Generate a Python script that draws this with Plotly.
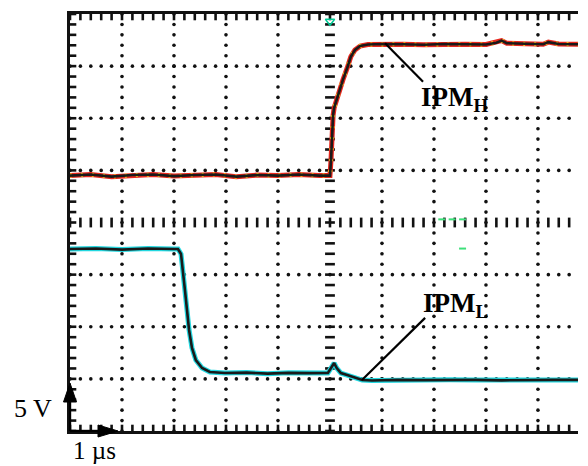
import numpy as np
import plotly.graph_objects as go

# ---- data (time in µs, voltage in V relative to each channel's ground) ----
time_h = [0.0, 0.4, 0.8, 1.2, 1.6, 2.0, 2.4, 2.8, 3.2, 3.6, 4.0, 4.4, 4.8, 5.0,
          5.02, 5.04, 5.06, 5.08, 5.15, 5.25, 5.33, 5.40, 5.48, 5.58, 5.73, 6.02,
          6.4, 6.8, 7.2, 7.6, 8.0, 8.2, 8.3, 8.4, 8.8, 9.1, 9.2, 9.4, 9.77]
ipm_h = [0.0, 0.1, -0.1, 0.05, 0.1, -0.05, 0.05, 0.1, -0.1, 0.05, 0.0, 0.1, 0.0, 0.0,
         1.5, 4.4, 5.8, 6.5, 7.7, 9.2, 10.3, 11.4, 12.05, 12.43, 12.57, 12.62,
         12.6, 12.55, 12.62, 12.6, 12.58, 12.75, 12.95, 12.7, 12.62, 12.6, 12.8, 12.62, 12.6]

time_l = [0.0, 0.5, 1.0, 1.5, 2.0, 2.077, 2.135, 2.173, 2.21, 2.25, 2.29, 2.346, 2.42,
          2.54, 2.69, 2.98, 3.4, 3.8, 4.2, 4.6, 4.96, 5.02, 5.08, 5.13, 5.21, 5.33,
          5.46, 5.62, 5.81, 6.3, 6.8, 7.3, 7.8, 8.3, 8.8, 9.3, 9.77]
ipm_l = [12.46, 12.5, 12.4, 12.5, 12.46, 12.46, 11.98, 10.44, 8.53, 6.61, 4.69, 2.96, 1.81,
         1.04, 0.66, 0.56, 0.6, 0.5, 0.58, 0.55, 0.56, 1.04, 1.52, 1.04, 0.56, 0.37,
         0.18, -0.11, -0.16, -0.1, -0.12, -0.08, -0.1, -0.14, -0.1, -0.1, -0.1]

volts_per_div = 5.0
h_ground_div = 4.9
l_ground_div = 1.0
label_h = "IPM<sub>H</sub>"
label_l = "IPM<sub>L</sub>"
scale_v = "5 V"
scale_t = "1 µs"

X_MAX = 9.77
Y_MAX = 8.0

fig = go.Figure()

# ---- graticule dots ----
sub = np.round(np.arange(0, 10.01, 0.2), 3)
subx = sub[sub <= X_MAX]
suby = np.round(np.arange(0, 8.01, 0.2), 3)
gx, gy = [], []
for yy in [1, 2, 3, 5, 6, 7]:
    gx += list(subx); gy += [yy] * len(subx)
for xx in [1, 2, 3, 4, 6, 7, 8, 9]:
    gx += [xx] * len(suby); gy += list(suby)
fig.add_trace(go.Scatter(x=gx, y=gy, mode="markers", hoverinfo="skip",
                         marker=dict(symbol="circle", size=3.6, color="#111")))
# centre lines with tick marks
fig.add_trace(go.Scatter(x=list(subx), y=[4] * len(subx), mode="markers", hoverinfo="skip",
                         marker=dict(symbol="line-ns", size=7, line=dict(width=2.6, color="#111"))))
fig.add_trace(go.Scatter(x=[5] * len(suby), y=list(suby), mode="markers", hoverinfo="skip",
                         marker=dict(symbol="line-ew", size=7, line=dict(width=2.6, color="#111"))))
# border ticks (half clipped -> inside ticks)
fig.add_trace(go.Scatter(x=list(subx) * 2, y=[Y_MAX] * len(subx) + [0] * len(subx),
                         mode="markers", hoverinfo="skip",
                         marker=dict(symbol="line-ns", size=9, line=dict(width=2.6, color="#111"))))
fig.add_trace(go.Scatter(x=[0] * len(suby), y=list(suby), mode="markers", hoverinfo="skip",
                         marker=dict(symbol="line-ew", size=9, line=dict(width=2.6, color="#111"))))

# ---- traces ----
yh = [h_ground_div + v / volts_per_div for v in ipm_h]
yl = [l_ground_div + v / volts_per_div for v in ipm_l]
fig.add_trace(go.Scatter(x=time_h, y=yh, mode="lines", hoverinfo="skip",
                         line=dict(color="#e8281e", width=5)))
fig.add_trace(go.Scatter(x=time_h, y=yh, mode="lines", hoverinfo="skip",
                         line=dict(color="#f2d21a", width=4, dash="2px,9px")))
fig.add_trace(go.Scatter(x=time_h, y=yh, mode="lines", hoverinfo="skip",
                         line=dict(color="#1a1a1a", width=2.6)))
fig.add_trace(go.Scatter(x=time_l, y=yl, mode="lines", hoverinfo="skip",
                         line=dict(color="#22d8e0", width=5)))
fig.add_trace(go.Scatter(x=time_l, y=yl, mode="lines", hoverinfo="skip",
                         line=dict(color="#1a1a1a", width=2.6)))

# small artefacts / markers of the scope screen
fig.add_trace(go.Scatter(x=[7.15, 7.35, 7.55, 7.55], y=[4.06, 4.06, 4.06, 3.5], mode="markers",
                         hoverinfo="skip",
                         marker=dict(symbol="line-ew", size=5, line=dict(width=2, color="#3ee07a"))))
fig.add_trace(go.Scatter(x=[-0.06], y=[h_ground_div + 0.08], mode="markers", hoverinfo="skip",
                         cliponaxis=False,
                         marker=dict(symbol="triangle-right", size=8, color="#333")))
fig.add_trace(go.Scatter(x=[5.0], y=[7.86], mode="markers", hoverinfo="skip", cliponaxis=False,
                         marker=dict(symbol="triangle-down-open", size=8,
                                     line=dict(width=1.5, color="#777"))))

# leader lines
fig.add_shape(type="line", x0=6.06, y0=7.44, x1=6.79, y1=6.70,
              line=dict(color="black", width=2.2))
fig.add_shape(type="line", x0=6.83, y0=2.17, x1=5.615, y1=0.98,
              line=dict(color="black", width=2.2))

# scale arrows (pixel-sized paths anchored at the lower-left screen corner)
arrow_common = dict(xref="paper", yref="paper", xsizemode="pixel", ysizemode="pixel",
                    xanchor=0, yanchor=0)
fig.add_shape(type="path", path="M0,0 L0,32", line=dict(color="black", width=2.4),
              **arrow_common)
fig.add_shape(type="path", path="M0,48 L-6.5,29 L6.5,29 Z", fillcolor="black",
              line=dict(color="black", width=1), **arrow_common)
fig.add_shape(type="path", path="M0,0 L32,0", line=dict(color="black", width=2.4),
              **arrow_common)
fig.add_shape(type="path", path="M48,0 L28,6 L28,-6 Z", fillcolor="black",
              line=dict(color="black", width=1), **arrow_common)

serif = "Liberation Serif, Times New Roman, serif"
fig.add_annotation(x=6.72, y=6.37, text="<b>" + label_h + "</b>", showarrow=False,
                   xanchor="left", yanchor="middle", font=dict(family=serif, size=27, color="black"))
fig.add_annotation(x=6.76, y=2.42, text="<b>" + label_l + "</b>", showarrow=False,
                   xanchor="left", yanchor="middle", font=dict(family=serif, size=27, color="black"))
fig.add_annotation(x=-0.114, y=0.053, xref="paper", yref="paper", text=scale_v,
                   showarrow=False, xanchor="left", yanchor="middle",
                   font=dict(family=serif, size=26, color="black"))
fig.add_annotation(x=0.002, y=-0.0835, xref="paper", yref="paper", text=scale_t,
                   showarrow=False, xanchor="left", yanchor="bottom",
                   font=dict(family=serif, size=25, color="black"))

fig.update_layout(
    width=588, height=466,
    margin=dict(l=70, r=10, t=14, b=35),
    paper_bgcolor="white", plot_bgcolor="white",
    showlegend=False,
    xaxis=dict(range=[0, X_MAX], showgrid=False, zeroline=False, showticklabels=False,
               ticks="", showline=True, mirror=True, linecolor="#111", linewidth=2.6),
    yaxis=dict(range=[0, Y_MAX], showgrid=False, zeroline=False, showticklabels=False,
               ticks="", showline=True, mirror=False, linecolor="#111", linewidth=2.6),
)

fig.write_html("out.html")
